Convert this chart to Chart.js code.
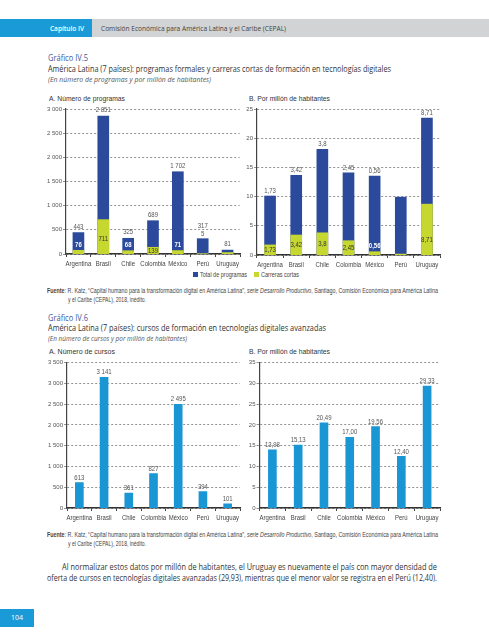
<!DOCTYPE html>
<html><head><meta charset="utf-8">
<script src="https://cdn.jsdelivr.net/npm/chart.js@4.4.1/dist/chart.umd.min.js"></script>
<style>
html,body{margin:0;padding:0;background:#fff;}
#page{position:relative;width:489px;height:640px;overflow:hidden;font-family:'Open Sans',sans-serif;}
.t{position:absolute;white-space:nowrap;transform-origin:0 50%;line-height:1.15;}
.n{font-family:'Liberation Sans',Arial,sans-serif;}
canvas{position:absolute;}
.sq{position:absolute;width:5px;height:5px;}
</style></head><body><div id="page">
<div style="position:absolute;left:0;top:19px;width:92px;height:18px;background:#1a9ad6"></div>
<div style="position:absolute;left:92px;top:19px;width:397px;height:18px;background:#d1d3d4"></div>
<div class="t" data-w="34" data-y="28" style="left:50px;font-size:7.5px;color:#fff;font-weight:600">Capítulo IV</div>
<div class="t" data-w="185" data-y="28" style="left:101px;font-size:7.5px;color:#444">Comisión Económica para América Latina y el Caribe (CEPAL)</div>

<div class="t" data-w="40" data-y="58" style="left:48px;font-size:8.5px;color:#3b5a9d">Gráfico IV.5</div>
<div class="t" data-w="343" data-y="69" style="left:48px;font-size:8.5px;color:#333">América Latina (7 países): programas formales y carreras cortas de formación en tecnologías digitales</div>
<div class="t" data-w="163" data-y="80" style="left:48px;font-size:7px;color:#555;font-style:italic">(En número de programas y por millón de habitantes)</div>

<div class="t n" data-w="76" data-y="99" style="left:49px;font-size:8px;color:#333">A. Número de programas</div>
<div class="t n" data-w="81" data-y="99" style="left:249px;font-size:8px;color:#333">B. Por millón de habitantes</div>

<div class="sq" style="left:193px;top:272px;background:#2c4a9c"></div>
<div class="t n" data-w="47" data-y="275" style="left:200px;font-size:7px;color:#444">Total de programas</div>
<div class="sq" style="left:254px;top:272px;background:#c6d72f"></div>
<div class="t n" data-w="38" data-y="275" style="left:261px;font-size:7px;color:#444">Carreras cortas</div>

<div class="t n" data-w="391" data-y="291" style="left:47px;font-size:6.5px;color:#444"><b>Fuente</b>: R. Katz, “Capital humano para la transformación digital en América Latina”, <i>serie Desarrollo Productivo</i>, Santiago, Comisión Económica para América Latina</div>
<div class="t n" data-w="78" data-y="300" style="left:68px;font-size:6.5px;color:#444">y el Caribe (CEPAL), 2018, inédito.</div>

<div class="t" data-w="40" data-y="318" style="left:48px;font-size:8.5px;color:#3b5a9d">Gráfico IV.6</div>
<div class="t" data-w="278" data-y="328" style="left:48px;font-size:8.5px;color:#333">América Latina (7 países): cursos de formación en tecnologías digitales avanzadas</div>
<div class="t" data-w="139" data-y="339" style="left:48px;font-size:7px;color:#555;font-style:italic">(En número de cursos y por millón de habitantes)</div>

<div class="t n" data-w="66" data-y="352" style="left:49px;font-size:8px;color:#333">A. Número de cursos</div>
<div class="t n" data-w="81" data-y="352" style="left:249px;font-size:8px;color:#333">B. Por millón de habitantes</div>

<div class="t n" data-w="391" data-y="535" style="left:47px;font-size:6.5px;color:#444"><b>Fuente</b>: R. Katz, “Capital humano para la transformación digital en América Latina”, <i>serie Desarrollo Productivo</i>, Santiago, Comisión Económica para América Latina</div>
<div class="t n" data-w="78" data-y="544" style="left:68px;font-size:6.5px;color:#444">y el Caribe (CEPAL), 2018, inédito.</div>

<div class="t" data-w="375" data-y="567" style="left:62px;font-size:8.5px;color:#333">Al normalizar estos datos por millón de habitantes, el Uruguay es nuevamente el país con mayor densidad de</div>
<div class="t" data-w="390" data-y="578" style="left:47px;font-size:8.5px;color:#333">oferta de cursos en tecnologías digitales avanzadas (29,93), mientras que el menor valor se registra en el Perú (12,40).</div>

<div style="position:absolute;left:0;top:609px;width:34px;height:18px;background:#1a9ad6"></div>
<div class="t" data-y="618" style="left:11px;font-size:7px;color:#fff">104</div>

<canvas id="c1"></canvas><canvas id="c2"></canvas><canvas id="c3"></canvas><canvas id="c4"></canvas>
</div>
<script>
// ---------- DATA ----------
const countries = ['Argentina','Brasil','Chile','Colombia','México','Perú','Uruguay'];
// Gráfico IV.5 A: número de programas
const totalProgramas = [443, 2851, 325, 689, 1702, 317, 81];
const carrerasCortas = [76, 711, 68, 139, 71, 5, 30];
const totalProgramasLabels = ['443','2 851','325','689','1 702','317','81'];
const carrerasCortasLabels = ['76','711','68','139','71','5',''];
// Gráfico IV.5 B: por millón de habitantes
const totalPorMillon = [10.1, 13.65, 18.1, 14.05, 13.5, 9.9, 23.45];
const cortasPorMillon = [1.73, 3.42, 3.8, 2.45, 0.56, 0.16, 8.71];
const cortasPorMillonLabels = ['1,73','3,42','3,8','2,45','0,56','','8,71'];
// Gráfico IV.6 A: número de cursos
const cursos = [613, 3141, 361, 827, 2495, 394, 101];
const cursosLabels = ['613','3 141','361','827','2 495','394','101'];
// Gráfico IV.6 B: cursos por millón de habitantes
const cursosPorMillon = [13.98, 15.13, 20.49, 17.00, 19.56, 12.40, 29.33];
const cursosPorMillonLabels = ['13,98','15,13','20,49','17,00','19,56','12,40','29,33'];

const BLUE = '#2c4a9c', GREEN = '#c6d72f', CYAN = '#1a96d4';
const SANS = "'Liberation Sans',Arial,sans-serif";
const fmt = v => String(v).replace(/\B(?=(\d{3})+(?!\d))/g, ' ');

function ctext(ctx, txt, x, y, font, color) {
  ctx.save();
  ctx.font = font; ctx.fillStyle = color;
  ctx.textAlign = 'center'; ctx.textBaseline = 'middle';
  ctx.translate(x, y); ctx.scale(0.8, 1);
  ctx.fillText(txt, 0, 0);
  ctx.restore();
}

function labelPlugin(cfg) {
  return {
    id: 'vlabels',
    afterDraw(chart) {
      const ctx = chart.ctx, ys = chart.scales.y, xs = chart.scales.x;
      const base = ys.getPixelForValue(0);
      const F = '7.5px ' + SANS, FB = 'bold 7.5px ' + SANS;
      for (let i = 0; i < chart.data.labels.length; i++) {
        const cx = xs.getPixelForValue(i);
        // category label (condensed)
        ctext(ctx, chart.data.labels[i], cx, base + 9.7, F, '#444');
        const top = ys.getPixelForValue(cfg.total[i]);
        let topDy = cfg.topGap;
        if (cfg.inner && cfg.inner[i]) {
          const v = cfg.part[i];
          const pTop = ys.getPixelForValue(v);
          const h = base - pTop;
          if (v / cfg.total[i] < 0.02) {
            ctext(ctx, cfg.inner[i], cx, top - 4.5, F, '#555');
            topDy = 13;
          } else if (h >= 6) {
            ctext(ctx, cfg.inner[i], cx, Math.max((pTop + base) / 2, base - 15), F, '#333');
          } else {
            ctext(ctx, cfg.inner[i], cx, base - 9, FB, '#fff');
          }
        }
        if (cfg.top && cfg.top[i]) ctext(ctx, cfg.top[i], cx, top - topDy, F, '#555');
      }
    }
  };
}

function makeChart(id, box, area, datasets, yMax, step, barW, lab) {
  const cv = document.getElementById(id);
  cv.style.left = box[0] + 'px'; cv.style.top = box[1] + 'px';
  cv.width = box[2]; cv.height = box[3];
  return new Chart(cv, {
    type: 'bar',
    data: { labels: countries, datasets: datasets.map(d => Object.assign({
      barThickness: barW, grouped: false, borderWidth: 0 }, d)) },
    options: {
      responsive: false, animation: false, devicePixelRatio: 1,
      layout: { padding: { top: area[1] - box[1], right: box[0] + box[2] - area[2], left: 0, bottom: 0 } },
      plugins: { legend: { display: false }, tooltip: { enabled: false } },
      scales: {
        x: {
          afterFit: s => { s.height = box[1] + box[3] - area[3]; },
          grid: { display: true, drawOnChartArea: false, drawTicks: true, tickLength: 3, color: '#444', offset: true },
          border: { display: true, color: '#333', width: 1.5 },
          ticks: { display: false }
        },
        y: {
          min: 0, max: yMax,
          afterFit: s => { s.width = area[0] - box[0]; },
          grid: { color: '#666', lineWidth: 0.7, tickLength: 3 },
          border: { display: true, color: '#444', width: 1.2, dash: [2, 2] },
          ticks: { stepSize: step, color: '#555', font: { family: SANS, size: 6 }, padding: 1, callback: v => fmt(v) }
        }
      }
    },
    plugins: [labelPlugin(lab)]
  });
}

makeChart('c1', [20, 100, 225, 172], [66, 109, 240, 254], [
  { data: carrerasCortas, backgroundColor: GREEN, order: 0 },
  { data: totalProgramas, backgroundColor: BLUE, order: 1 }
], 3000, 500, 11, { total: totalProgramas, part: carrerasCortas, top: totalProgramasLabels, inner: carrerasCortasLabels, topGap: 6 });

makeChart('c2', [240, 100, 210, 172], [257, 109, 440, 255], [
  { data: cortasPorMillon, backgroundColor: GREEN, order: 0 },
  { data: totalPorMillon, backgroundColor: BLUE, order: 1 }
], 25, 5, 11, { total: totalPorMillon, part: cortasPorMillon, top: cortasPorMillonLabels, inner: cortasPorMillonLabels, topGap: 5 });

makeChart('c3', [20, 355, 225, 171], [67, 362.5, 240, 508], [
  { data: cursos, backgroundColor: CYAN }
], 3500, 500, 8, { total: cursos, top: cursosLabels, topGap: 5 });

makeChart('c4', [240, 355, 210, 171], [259.5, 362.5, 440, 508], [
  { data: cursosPorMillon, backgroundColor: CYAN }
], 35, 5, 8, { total: cursosPorMillon, top: cursosPorMillonLabels, topGap: 5 });

// fit page texts
function fitTexts() {
  document.querySelectorAll('.t').forEach(el => {
    el.style.transform = 'none';
    const r = el.getBoundingClientRect();
    const w = parseFloat(el.dataset.w || 0);
    const sx = w ? w / r.width : 1;
    el.style.top = (parseFloat(el.dataset.y) - r.height / 2) + 'px';
    el.style.transform = 'scaleX(' + sx + ')';
  });
}
fitTexts();
if (document.fonts && document.fonts.ready) document.fonts.ready.then(fitTexts);
</script>
</body></html>
